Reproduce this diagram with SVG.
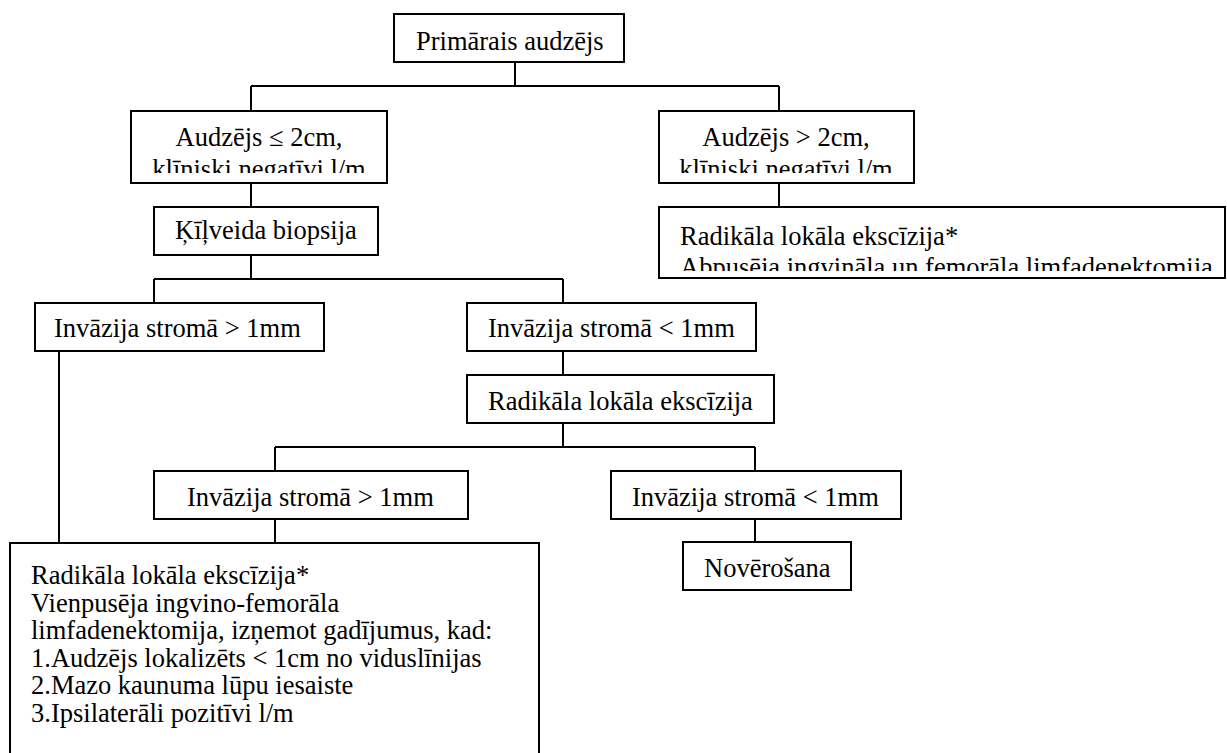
<svg xmlns="http://www.w3.org/2000/svg" width="1227" height="753" viewBox="0 0 1227 753">
<style>
.box{fill:#fff;stroke:#000;stroke-width:2}
.t{font-family:"Liberation Serif","Times New Roman",serif;font-size:26.5px;fill:#000}
.c{text-anchor:middle}
.ln{fill:none;stroke:#000;stroke-width:2}
</style>
<defs>
<clipPath id="clipL"><rect x="131" y="111" width="256" height="62"/></clipPath>
<clipPath id="clipR"><rect x="659" y="111" width="255" height="62"/></clipPath>
<clipPath id="clipRR"><rect x="659" y="207" width="566" height="64"/></clipPath>
</defs>
<rect width="1227" height="753" fill="#fff"/>
<g id="connectors">
<path class="ln" d="M515 62V86M251 86H779M251 86V111M779 86V111"/>
<path class="ln" d="M251 183V207M779 183V207"/>
<path class="ln" d="M251 255V279M154 279H563M154 279V303M563 279V303"/>
<path class="ln" d="M59 351V543"/>
<path class="ln" d="M563 351V375M563 423V447M275 447H755M275 447V471M755 447V471"/>
<path class="ln" d="M275 519V543M755 519V542"/>
</g>
<g id="n1"><rect class="box" x="394" y="14" width="230" height="48"/><text class="t" x="416" y="50">Primārais audzējs</text></g>
<g id="n2"><rect class="box" x="131" y="111" width="256" height="72"/><text class="t c" x="259" y="146">Audzējs ≤ 2cm,</text><text class="t c" x="259" y="178" clip-path="url(#clipL)">klīniski negatīvi l/m</text></g>
<g id="n3"><rect class="box" x="659" y="111" width="255" height="72"/><text class="t c" x="786" y="146">Audzējs &gt; 2cm,</text><text class="t c" x="786" y="178" clip-path="url(#clipR)">klīniski negatīvi l/m</text></g>
<g id="n4"><rect class="box" x="154" y="207" width="224" height="48"/><text class="t" x="175" y="239">Ķīļveida biopsija</text></g>
<g id="n5"><rect class="box" x="659" y="207" width="566" height="71"/><text class="t" x="680" y="245">Radikāla lokāla ekscīzija*</text><text class="t" x="680" y="276" clip-path="url(#clipRR)">Abpusēja ingvināla un femorāla limfadenektomija</text></g>
<g id="n6"><rect class="box" x="35" y="303" width="289" height="48"/><text class="t" x="54" y="337">Invāzija stromā &gt; 1mm</text></g>
<g id="n7"><rect class="box" x="467" y="303" width="289" height="48"/><text class="t" x="488" y="337">Invāzija stromā &lt; 1mm</text></g>
<g id="n8"><rect class="box" x="467" y="375" width="307" height="48"/><text class="t" x="488" y="410">Radikāla lokāla ekscīzija</text></g>
<g id="n9"><rect class="box" x="154" y="471" width="314" height="48"/><text class="t" x="187" y="506">Invāzija stromā &gt; 1mm</text></g>
<g id="n10"><rect class="box" x="611" y="471" width="290" height="48"/><text class="t" x="632" y="506">Invāzija stromā &lt; 1mm</text></g>
<g id="n11"><rect class="box" x="683" y="542" width="168" height="48"/><text class="t" x="704" y="577">Novērošana</text></g>
<g id="n12"><rect class="box" x="10" y="543" width="529" height="220"/>
<text class="t" x="31" y="584">Radikāla lokāla ekscīzija*</text>
<text class="t" x="31" y="611.5">Vienpusēja ingvino-femorāla</text>
<text class="t" x="31" y="639">limfadenektomija, izņemot gadījumus, kad:</text>
<text class="t" x="31" y="666.5">1.Audzējs lokalizēts &lt; 1cm no viduslīnijas</text>
<text class="t" x="31" y="694">2.Mazo kaunuma lūpu iesaiste</text>
<text class="t" x="31" y="721.5">3.Ipsilaterāli pozitīvi l/m</text>
</g>
</svg>
